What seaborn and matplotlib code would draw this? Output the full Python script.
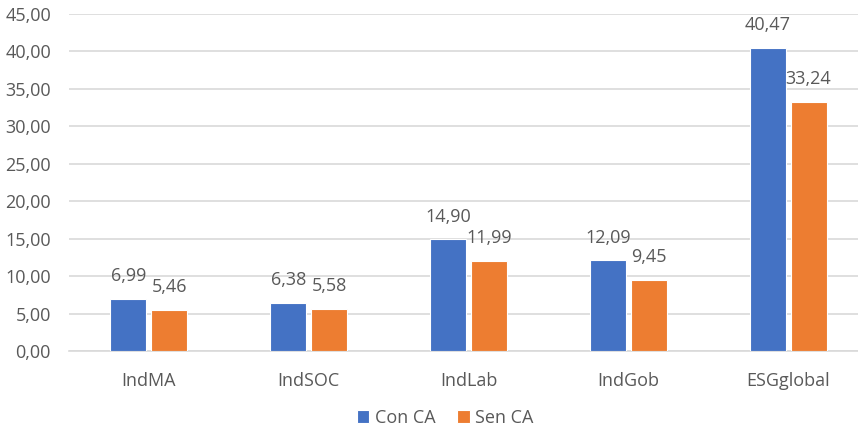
import pandas as pd
import seaborn as sns
import matplotlib.pyplot as plt
from matplotlib.ticker import FuncFormatter

categories = ['IndMA', 'IndSOC', 'IndLab', 'IndGob', 'ESGglobal']
con_ca = [6.99, 6.38, 14.90, 12.09, 40.47]
sen_ca = [5.46, 5.58, 11.99, 9.45, 33.24]
series = ['Con CA', 'Sen CA']

df = pd.DataFrame({
    'cat': categories * 2,
    'value': con_ca + sen_ca,
    'serie': [series[0]] * len(categories) + [series[1]] * len(categories),
})

sns.set_style('white')
plt.rcParams['font.family'] = ['Open Sans', 'DejaVu Sans']
txt = '#595959'

fig = plt.figure(figsize=(8.58, 4.32), dpi=100)
ax = fig.add_axes([69 / 858, 1 - 351 / 432, 1 - 69 / 858, (351 - 14) / 432])

sns.barplot(data=df, x='cat', y='value', hue='serie', order=categories,
            hue_order=series, palette=['#4472C4', '#ED7D31'], saturation=1,
            width=0.5125, gap=0.12, edgecolor='white', linewidth=0.8,
            ax=ax, zorder=3)

# etiquetas de valor
for cont in ax.containers:
    for bar in cont:
        h = bar.get_height()
        ax.annotate(f'{h:.2f}'.replace('.', ','),
                    (bar.get_x() + bar.get_width() / 2, h),
                    xytext=(0, 10), textcoords='offset points',
                    ha='center', va='bottom', fontsize=13, color=txt)

ax.set_ylim(0, 45)
ax.set_yticks(range(0, 46, 5))
ax.yaxis.set_major_formatter(FuncFormatter(lambda v, p: f'{v:.2f}'.replace('.', ',')))
ax.set_xlim(-0.5, 4.5 - 10 / 160)
ax.grid(axis='y', color='#D9D9D9', linewidth=1.2, zorder=0)
for s in ['top', 'right', 'left']:
    ax.spines[s].set_visible(False)
ax.spines['bottom'].set_color('#D9D9D9')
ax.spines['bottom'].set_linewidth(1.2)
ax.tick_params(axis='y', length=0, pad=13, labelsize=13, labelcolor=txt)
ax.tick_params(axis='x', length=0, pad=15, labelsize=13, labelcolor=txt)
ax.set_xlabel('')
ax.set_ylabel('')

ax.legend(title=None, loc='center', bbox_to_anchor=(445 / 858, 14 / 432),
          bbox_transform=fig.transFigure, ncol=2, frameon=False,
          fontsize=13, labelcolor=txt, handlelength=0.7, handleheight=0.7,
          handletextpad=0.3, columnspacing=1.2)

plt.savefig('out.png', dpi=100)
plt.close()
